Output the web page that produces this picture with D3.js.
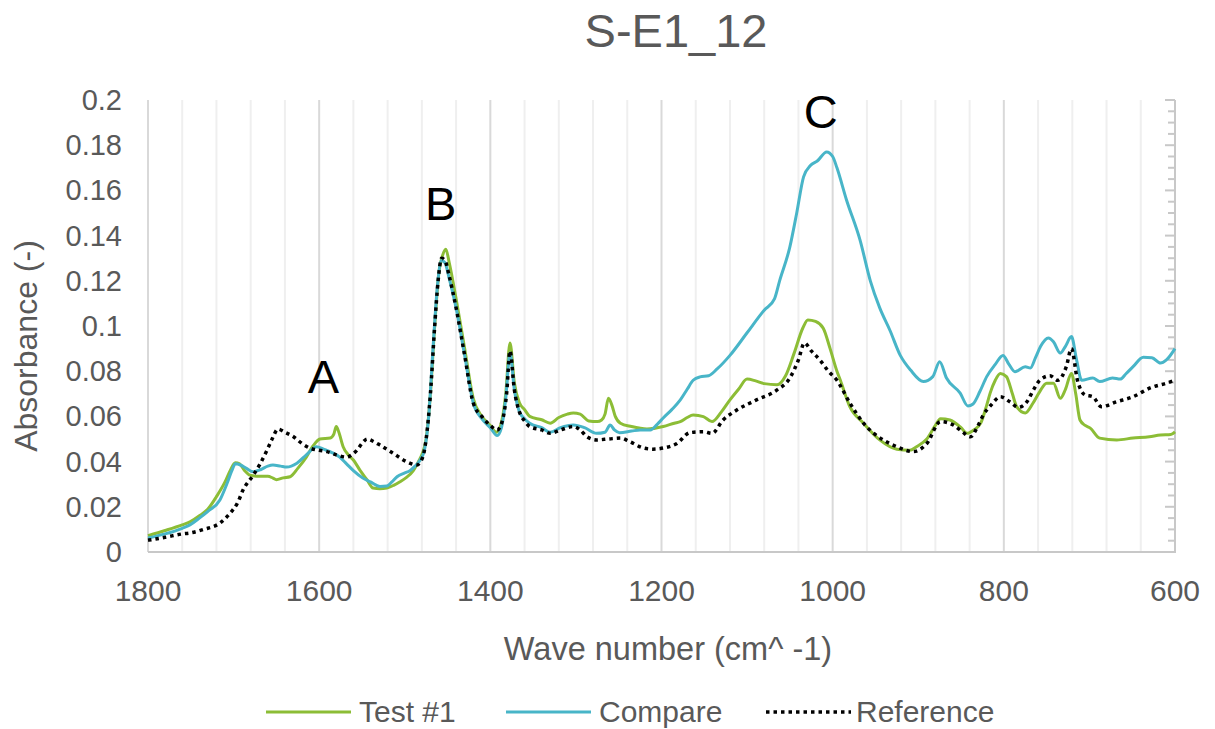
<!DOCTYPE html>
<html>
<head>
<meta charset="utf-8">
<script src="https://cdn.jsdelivr.net/npm/d3@7"></script>
<style>
  html, body { margin: 0; padding: 0; background: #fff; }
  svg text { font-family: "Liberation Sans", Arial, sans-serif; }
</style>
</head>
<body>
<svg id="chart" width="1215" height="729"></svg>
<script>
// Spectrum series: [wave number (cm^-1), absorbance]
const test1 = [
  [1800,0.0072],[1780,0.0095],[1760,0.012],[1751,0.0133],[1740,0.016],[1730,0.019],[1720,0.0245],
  [1710,0.031],[1704,0.036],[1698,0.0395],[1693,0.039],[1687,0.036],[1681,0.034],[1670,0.0335],
  [1660,0.0335],[1654,0.0327],[1650,0.032],[1642,0.0328],[1634,0.0333],[1625,0.037],[1615,0.042],
  [1607,0.047],[1599,0.050],[1587,0.0504],[1583,0.052],[1580,0.0555],[1577,0.053],[1572,0.0466],
  [1566,0.043],[1560,0.0407],[1552,0.036],[1544,0.0319],[1537,0.0283],[1529,0.028],[1521,0.0283],
  [1513,0.0295],[1506,0.031],[1498,0.033],[1490,0.036],[1484,0.040],[1479,0.044],[1475,0.050],
  [1470,0.07],[1465,0.1],[1460,0.124],[1456,0.131],[1452,0.134],[1448,0.128],[1440,0.112],
  [1430,0.09],[1420,0.068],[1410,0.060],[1400,0.056],[1393,0.053],[1388,0.056],[1382,0.07],
  [1377,0.0925],[1372,0.075],[1366,0.066],[1360,0.063],[1354,0.060],[1340,0.0585],[1330,0.057],
  [1320,0.0595],[1310,0.061],[1303,0.0615],[1295,0.061],[1285,0.058],[1275,0.0577],[1270,0.0584],
  [1266,0.061],[1262,0.068],[1258,0.065],[1254,0.060],[1248,0.057],[1235,0.0555],[1217,0.0544],
  [1198,0.0555],[1185,0.057],[1178,0.0577],[1170,0.0595],[1163,0.0606],[1151,0.0599],[1141,0.0577],
  [1130,0.062],[1120,0.0673],[1110,0.072],[1100,0.0765],[1090,0.0757],[1080,0.0745],[1065,0.074],
  [1055,0.078],[1045,0.088],[1035,0.099],[1029,0.1027],[1020,0.102],[1011,0.099],[1003,0.09],
  [995,0.08],[991,0.076],[980,0.0643],[964,0.057],[945,0.0496],[925,0.0455],[910,0.045],
  [902,0.0466],[890,0.050],[880,0.056],[874,0.059],[863,0.0584],[850,0.055],[843,0.0525],
  [835,0.054],[827,0.057],[820,0.065],[816,0.0703],[810,0.076],[804,0.079],[797,0.0776],
  [790,0.070],[785,0.0643],[775,0.0615],[766,0.0658],[758,0.071],[750,0.0747],[742,0.0747],
  [734,0.068],[728,0.072],[721,0.079],[716,0.070],[711,0.0584],[705,0.056],[699,0.0548],
  [688,0.0504],[668,0.0496],[649,0.0504],[630,0.051],[617,0.0518],[605,0.052],[600,0.0532]
];

const compare = [
  [1800,0.0062],[1780,0.008],[1760,0.0105],[1751,0.012],[1740,0.015],[1730,0.018],[1716,0.023],
  [1708,0.030],[1702,0.036],[1698,0.039],[1692,0.0385],[1685,0.037],[1677,0.0355],[1668,0.0365],
  [1660,0.038],[1654,0.0385],[1645,0.038],[1638,0.0376],[1626,0.0393],[1615,0.043],[1603,0.0466],
  [1595,0.0455],[1585,0.044],[1576,0.042],[1568,0.039],[1560,0.036],[1549,0.0327],[1540,0.031],
  [1529,0.029],[1521,0.0292],[1515,0.031],[1509,0.0333],[1500,0.035],[1494,0.036],[1488,0.038],
  [1482,0.0407],[1477,0.045],[1472,0.06],[1467,0.09],[1462,0.117],[1457,0.129],[1453,0.128],
  [1448,0.121],[1440,0.108],[1430,0.087],[1420,0.066],[1410,0.059],[1400,0.055],[1392,0.0515],
  [1387,0.055],[1382,0.068],[1377,0.088],[1372,0.072],[1366,0.062],[1360,0.059],[1354,0.057],
  [1340,0.055],[1330,0.053],[1318,0.055],[1303,0.0562],[1290,0.055],[1276,0.0525],[1266,0.053],
  [1260,0.0562],[1255,0.054],[1249,0.0528],[1235,0.0535],[1225,0.054],[1213,0.054],[1205,0.0565],
  [1198,0.0593],[1188,0.063],[1178,0.0673],[1170,0.072],[1163,0.076],[1155,0.0775],[1145,0.078],
  [1135,0.081],[1120,0.087],[1100,0.097],[1080,0.107],[1068,0.112],[1062,0.120],[1050,0.135],
  [1042,0.150],[1034,0.166],[1026,0.171],[1018,0.173],[1007,0.177],[1000,0.175],[995,0.170],
  [984,0.156],[968,0.138],[956,0.120],[945,0.108],[933,0.098],[921,0.087],[909,0.0805],
  [894,0.0754],[883,0.0776],[875,0.0842],[867,0.077],[851,0.0703],[842,0.0646],[836,0.0655],
  [828,0.071],[820,0.0776],[810,0.083],[801,0.087],[794,0.083],[787,0.0798],[775,0.082],
  [769,0.0814],[763,0.086],[757,0.091],[748,0.0947],[742,0.093],[734,0.088],[728,0.091],
  [721,0.0953],[715,0.085],[709,0.076],[696,0.077],[688,0.0754],[673,0.077],[664,0.0765],
  [657,0.079],[649,0.082],[637,0.0862],[627,0.086],[617,0.0836],[610,0.085],[600,0.090]
];

const reference = [
  [1800,0.0052],[1780,0.0065],[1760,0.008],[1751,0.0084],[1735,0.010],[1716,0.0128],[1704,0.0172],
  [1695,0.022],[1689,0.0274],[1677,0.034],[1669,0.039],[1661,0.045],[1655,0.050],[1648,0.0544],
  [1640,0.053],[1630,0.051],[1620,0.048],[1611,0.046],[1600,0.045],[1591,0.0444],[1580,0.043],
  [1568,0.042],[1562,0.043],[1556,0.045],[1550,0.048],[1544,0.050],[1537,0.049],[1529,0.0473],
  [1514,0.0438],[1498,0.040],[1486,0.0385],[1479,0.042],[1475,0.05],[1470,0.07],[1465,0.1],
  [1461,0.12],[1457,0.130],[1453,0.129],[1448,0.122],[1440,0.108],[1430,0.087],[1420,0.066],
  [1410,0.060],[1400,0.056],[1392,0.054],[1386,0.058],[1381,0.07],[1377,0.089],[1372,0.072],
  [1366,0.062],[1360,0.058],[1354,0.0555],[1340,0.054],[1330,0.0525],[1318,0.054],[1303,0.0555],
  [1295,0.054],[1287,0.051],[1276,0.0496],[1262,0.050],[1248,0.0504],[1237,0.0488],[1221,0.046],
  [1210,0.0455],[1198,0.046],[1182,0.048],[1167,0.0528],[1151,0.0532],[1141,0.0525],[1128,0.0584],
  [1112,0.0628],[1089,0.0673],[1065,0.0717],[1050,0.077],[1040,0.085],[1033,0.0925],[1025,0.089],
  [1015,0.085],[1005,0.080],[995,0.076],[980,0.066],[964,0.057],[941,0.0496],[925,0.0466],
  [906,0.0444],[890,0.048],[874,0.0577],[859,0.0562],[848,0.053],[839,0.051],[830,0.056],
  [824,0.0606],[815,0.065],[804,0.0687],[793,0.0665],[783,0.064],[773,0.0665],[765,0.072],
  [758,0.076],[746,0.078],[737,0.076],[727,0.082],[721,0.090],[714,0.076],[705,0.0695],
  [696,0.0687],[686,0.0643],[668,0.0665],[649,0.0687],[629,0.0726],[610,0.0747],[600,0.076]
];

const xTicks = [1800, 1600, 1400, 1200, 1000, 800, 600];
const yTicks = [0, 0.02, 0.04, 0.06, 0.08, 0.1, 0.12, 0.14, 0.16, 0.18, 0.2];
const seriesNames = ["Test #1", "Compare", "Reference"];
const peakLabels = [
  { text: "A", wn: 1595, abs: 0.0705 },
  { text: "B", wn: 1458, abs: 0.147 },
  { text: "C", wn: 1014, abs: 0.1875 }
];

const svg = d3.select("#chart");
const M = { left: 148, right: 1175, top: 100, bottom: 552 };
const x = d3.scaleLinear().domain([1800, 600]).range([M.left, M.right]);
const y = d3.scaleLinear().domain([0, 0.2]).range([M.bottom, M.top]);
const textCol = "#595959";

// vertical gridlines: minor every 40, major every 200
const minorX = d3.range(1800, 599, -40);
svg.append("g").selectAll("line").data(minorX.filter(v => v % 200 !== 0)).join("line")
  .attr("x1", d => x(d)).attr("x2", d => x(d))
  .attr("y1", M.top).attr("y2", M.bottom)
  .attr("stroke", "#efefef").attr("stroke-width", 2);
svg.append("g").selectAll("line").data(xTicks.filter(v => v !== 600)).join("line")
  .attr("x1", d => x(d)).attr("x2", d => x(d))
  .attr("y1", M.top).attr("y2", M.bottom)
  .attr("stroke", "#d9d9d9").attr("stroke-width", 2);

// bottom axis line
svg.append("line")
  .attr("x1", M.left).attr("x2", M.right + 1)
  .attr("y1", M.bottom).attr("y2", M.bottom)
  .attr("stroke", "#c8c8c8").attr("stroke-width", 2);

// right axis with inward ticks
const yMinor = d3.range(0, 0.2001, 0.005);
svg.append("line")
  .attr("x1", M.right).attr("x2", M.right)
  .attr("y1", M.top).attr("y2", M.bottom)
  .attr("stroke", "#c8c8c8").attr("stroke-width", 2);
svg.append("g").selectAll("line").data(yMinor).join("line")
  .attr("x1", M.right)
  .attr("x2", (d, i) => M.right - (i % 4 === 0 ? 10 : 7))
  .attr("y1", d => y(d)).attr("y2", d => y(d))
  .attr("stroke", "#c8c8c8").attr("stroke-width", 2);

// tick labels
svg.append("g").selectAll("text").data(yTicks).join("text")
  .attr("x", 122).attr("y", d => y(d) + 10)
  .attr("text-anchor", "end")
  .attr("font-size", 29).attr("fill", textCol)
  .text(d => String(+d.toFixed(2)));
svg.append("g").selectAll("text").data(xTicks).join("text")
  .attr("x", d => x(d)).attr("y", 601)
  .attr("text-anchor", "middle")
  .attr("font-size", 30).attr("fill", textCol)
  .text(d => d);

// titles
svg.append("text").attr("x", 676).attr("y", 47)
  .attr("text-anchor", "middle").attr("font-size", 47).attr("fill", textCol)
  .text("S-E1_12");
svg.append("text").attr("x", 668).attr("y", 660)
  .attr("text-anchor", "middle").attr("font-size", 32.5).attr("fill", textCol)
  .text("Wave number (cm^ -1)");
svg.append("text")
  .attr("transform", "translate(37,346) rotate(-90)")
  .attr("text-anchor", "middle").attr("font-size", 32).attr("fill", textCol)
  .text("Absorbance (-)");

// spectra
const line = d3.line()
  .x(d => x(d[0])).y(d => y(d[1]))
  .curve(d3.curveMonotoneX);
const styles = [
  { data: test1, color: "#8cbd36", dash: null, width: 3 },
  { data: compare, color: "#48b5c8", dash: null, width: 3 },
  { data: reference, color: "#000000", dash: "3.5,4", width: 3.5 }
];
// draw order: Test #1 under Compare under Reference
styles.forEach(s => {
  svg.append("path")
    .datum(s.data)
    .attr("d", line)
    .attr("fill", "none")
    .attr("stroke", s.color)
    .attr("stroke-width", s.width)
    .attr("stroke-linejoin", "round")
    .attr("stroke-dasharray", s.dash);
});

// peak annotations
svg.append("g").selectAll("text").data(peakLabels).join("text")
  .attr("x", d => x(d.wn)).attr("y", d => y(d.abs))
  .attr("text-anchor", "middle").attr("font-size", 47).attr("fill", "#000")
  .text(d => d.text);

// legend
const legendItems = [
  { name: seriesNames[0], lx: 266, tx: 359 },
  { name: seriesNames[1], lx: 506, tx: 599 },
  { name: seriesNames[2], lx: 766, tx: 856 }
];
const lg = svg.append("g");
legendItems.forEach((it, i) => {
  const s = styles[i];
  lg.append("line")
    .attr("x1", it.lx).attr("x2", it.lx + 85)
    .attr("y1", 712).attr("y2", 712)
    .attr("stroke", s.color).attr("stroke-width", s.width)
    .attr("stroke-dasharray", s.dash);
  lg.append("text")
    .attr("x", it.tx).attr("y", 722)
    .attr("font-size", 30).attr("fill", textCol)
    .text(it.name);
});
</script>
</body>
</html>
